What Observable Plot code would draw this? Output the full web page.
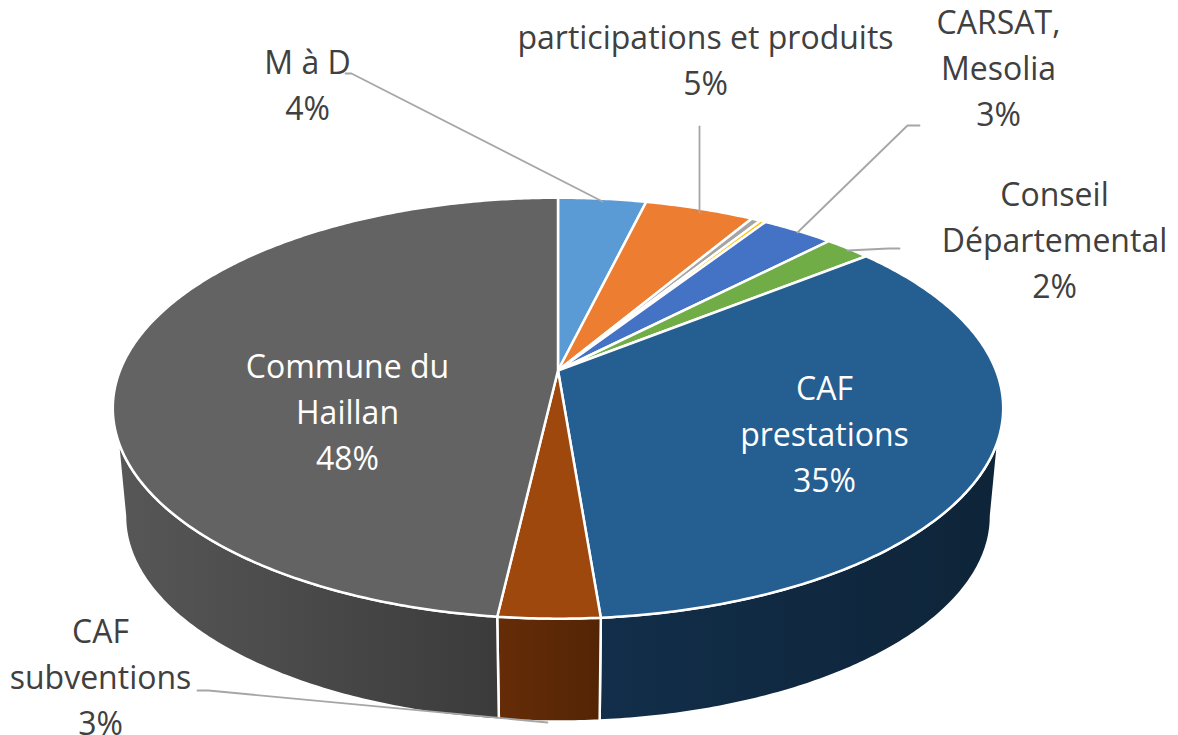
<!DOCTYPE html>
<html>
<head>
<meta charset="utf-8">
<script src="https://cdn.jsdelivr.net/npm/d3@7"></script>
<script src="https://cdn.jsdelivr.net/npm/@observablehq/plot@0.6"></script>
<style>html,body{margin:0;padding:0;background:#fff}svg{display:block}</style>
</head>
<body>
<div id="chart"></div>
<script>
// Data, clockwise from twelve o'clock
const categories = ["M à D","participations et produits","autre A","autre B","CARSAT, Mesolia","Conseil Départemental","CAF prestations","CAF subventions","Commune du Haillan"];
const values = [3.8,4.72,0.4,0.25,3.12,2.0,34.43,3.1,48.18];
const topColors = ["#5b9bd5","#ed7d31","#a5a5a5","#ffc000","#4472c4","#70ad47","#255e91","#9e480e","#636363"];
const sideLeft = ["#37607f","#8e4b1d","#636363","#997300","#294677","#43682b","#122e4a","#662c08","#575757"];
const sideRight = ["#37607f","#8e4b1d","#636363","#997300","#294677","#43682b","#0e2438","#532505","#3b3b3b"];

// Text labels
const labelText = ["M à D\n4%","participations et produits\n5%","CARSAT,\nMesolia\n3%","Conseil\nDépartemental\n2%","CAF\nprestations\n35%","CAF\nsubventions\n3%","Commune du\nHaillan\n48%"];
const labelX = [307,705,998,1054,824,100,347];
const labelY = [82,57,65,237,431,674,409];
const labelFill = ["#404040","#404040","#404040","#404040","#ffffff","#404040","#ffffff"];

// Leader lines
const leaders = [
  [[345,73],[351,73],[602,201]],
  [[699,126],[699,212]],
  [[919,125],[907,125],[797,232]],
  [[899,248],[888,248],[847,250]],
  [[197,690],[208,690],[547,722]]
];

// Perspective of the disc: c is the foreshortening, top and bottom faces differ
const W = 1178, H = 735, cx = 557.5, c = 0.179;
const topFace = {r: 438, a: 370, b: -137.5};
const lowFace = {r: 426, a: 479, b: -113};
const project = (f, t) => {
  const u = Math.sin(t), v = Math.cos(t), k = 1 + c * v;
  return {x: cx + f.r * u / k, y: (f.a + f.b * v) / k};
};
const arc = (f, t0, t1) => {
  const n = Math.max(2, Math.ceil((t1 - t0) / 0.01));
  return d3.range(n + 1).map(i => project(f, t0 + (t1 - t0) * i / n));
};
const deg = Math.PI / 180;
const total = d3.sum(values);
const cumulative = d3.cumsum(values);
const slices = values.map((v, i) => ({
  i,
  t0: ((cumulative[i] - v) / total) * 2 * Math.PI,
  t1: (cumulative[i] / total) * 2 * Math.PI
}));
// Visible limits of the side wall on each face
const topLim = [108.4 * deg, 251.6 * deg], lowLim = [100.3 * deg, 259.7 * deg];

const sideMarks = slices.filter(s => s.t1 > topLim[0] && s.t0 < topLim[1]).map(s => {
  const pts = [
    ...arc(topFace, Math.max(s.t0, topLim[0]), Math.min(s.t1, topLim[1])),
    ...arc(lowFace, Math.max(s.t0, lowLim[0]), Math.min(s.t1, lowLim[1])).reverse()
  ];
  pts.push(pts[0]);
  return Plot.line(pts, {x: "x", y: "y", fill: `url(#side${s.i})`, stroke: "#ffffff", strokeWidth: 2.5});
});
const topMarks = slices.map(s => {
  const apex = {x: cx, y: topFace.a};
  return Plot.line([apex, ...arc(topFace, s.t0, s.t1), apex], {
    x: "x", y: "y", fill: topColors[s.i], stroke: "#ffffff", strokeWidth: 2.5
  });
});
const leaderMarks = leaders.map(l => Plot.line(l, {
  x: d => d[0], y: d => d[1], stroke: "#a6a6a6", strokeWidth: 1.8
}));
const defsMark = () => {
  const ns = "http://www.w3.org/2000/svg";
  const defs = document.createElementNS(ns, "defs");
  slices.forEach(s => {
    const g = document.createElementNS(ns, "linearGradient");
    g.setAttribute("id", `side${s.i}`);
    [[0, sideLeft[s.i]], [1, sideRight[s.i]]].forEach(([o, col]) => {
      const st = document.createElementNS(ns, "stop");
      st.setAttribute("offset", o);
      st.setAttribute("stop-color", col);
      g.appendChild(st);
    });
    defs.appendChild(g);
  });
  return defs;
};

const labelRows = labelText.map((t, i) => ({t, x: labelX[i], y: labelY[i], f: labelFill[i]}));

const chart = Plot.plot({
  width: W, height: H,
  margin: 0,
  style: {background: "#ffffff"},
  x: {domain: [0, W], range: [0, W], axis: null},
  y: {domain: [0, H], range: [0, H], axis: null},
  marks: [
    defsMark,
    ...sideMarks,
    ...topMarks,
    ...leaderMarks,
    Plot.text(labelRows, {
      x: "x", y: "y", text: "t", fill: "f",
      fontFamily: "'Open Sans', sans-serif", fontSize: 32, lineHeight: 1.43,
      textAnchor: "middle"
    })
  ]
});
document.getElementById("chart").appendChild(chart);
</script>
</body>
</html>
